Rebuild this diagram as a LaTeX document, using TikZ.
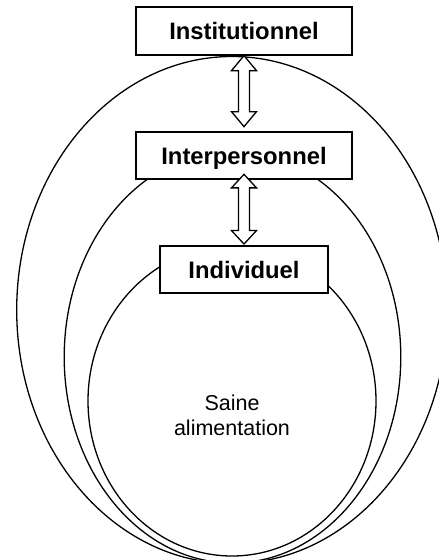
\documentclass[tikz,border=0pt]{standalone}
\usepackage{fontspec}
\setmainfont{Liberation Sans}
\usetikzlibrary{calc}
\newcommand\dblarr[3]{%
  \draw[dblarrow] let \p1=#1, \p2=#2 in
    (\p1) -- (\x1+12.5pt,\y1-#3) -- (\x1+5.5pt,\y1-#3) -- (\x2+5.5pt,\y2+#3)
    -- (\x2+12.5pt,\y2+#3) -- (\p2) -- (\x2-12.5pt,\y2+#3) -- (\x2-5.5pt,\y2+#3)
    -- (\x1-5.5pt,\y1-#3) -- (\x1-12.5pt,\y1-#3) -- cycle;}
\tikzset{
  ring/.style={draw=black, line width=1.3pt},
  box/.style={draw=black, fill=white, line width=1.3pt, inner sep=0pt,
    font=\fontsize{23.8}{28}\selectfont\bfseries, text height=17pt, text depth=0pt},
  dblarrow/.style={draw=black, fill=white, line width=1.3pt, line join=miter},
  label/.style={inner sep=0pt, align=center, font=\fontsize{21.5}{25.3}\selectfont}
}
\begin{document}
\begin{tikzpicture}[x=1pt,y=-1pt]
\fill[white] (0,0) rectangle (439,560);
\useasboundingbox (0,0) rectangle (439,560);
\begin{scope}
  \clip (0,0) rectangle (439,560);
  \draw[ring] (232,310) ellipse [x radius=215.3pt, y radius=253.5pt];
  \draw[ring] (232.5,357) ellipse [x radius=168.3pt, y radius=206pt];
  \draw[ring] (232,401) ellipse [x radius=144pt, y radius=155pt];
\end{scope}
\node[box, minimum width=216pt, minimum height=48pt] (inst) at (244,31) {Institutionnel};
\node[box, minimum width=216pt, minimum height=47pt] (inter) at (244,155.5) {Interpersonnel};
\node[box, minimum width=168pt, minimum height=47pt] (indiv) at (244,269.5) {Individuel};
\node[label, anchor=north] (txt) at (232,394.7) {Saine\\alimentation};
\dblarr{(inst.south)}{($(inter.north)+(0,-4.7)$)}{15pt}
\dblarr{($(inter.south)+(0,-5.3)$)}{($(indiv.north)+(0,-1.3)$)}{13.5pt}
\end{tikzpicture}
\end{document}
